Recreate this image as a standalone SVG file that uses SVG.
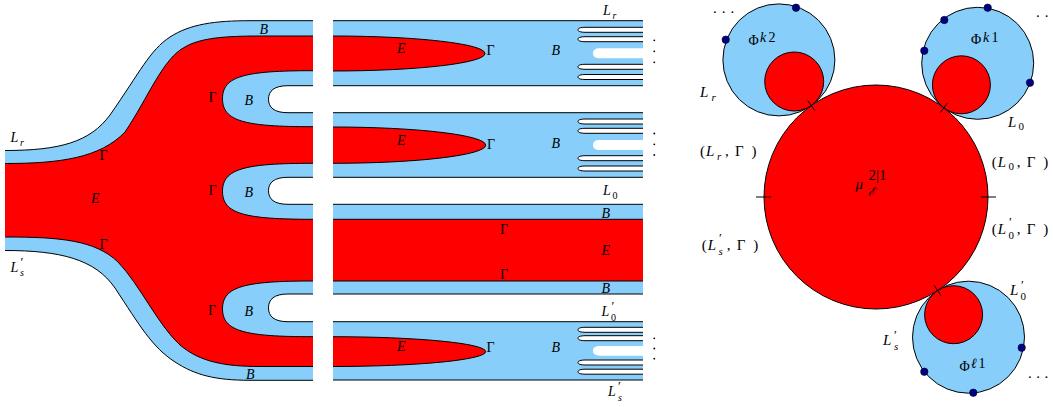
<svg xmlns="http://www.w3.org/2000/svg" width="1053" height="407" viewBox="0 0 1053 407">
<style>
.bl{fill:#87CEFA}
.rd{fill:#FF0000}
.ln{fill:none;stroke:#000;stroke-width:1}
.lb{fill:#87CEFA;stroke:#000;stroke-width:1}
.lr{fill:#FF0000;stroke:#000;stroke-width:1}
.wh{fill:#FFFFFF;stroke:#000;stroke-width:1}
.wn{fill:#FFFFFF}
.dot{fill:#00008B;stroke:#000;stroke-width:0.6}
.vd{fill:#000}
text{font-family:"Liberation Serif","DejaVu Serif",serif;fill:#000}
.m{font-style:italic;font-size:14px}
.u{font-size:14px}
.ms{font-style:italic;font-size:10px}
.us{font-size:10px}
.pr{font-size:13px}
.M{font-style:italic;font-size:15px}
.U{font-size:15px}
.Ms{font-style:italic;font-size:11px}
.Us{font-size:11px}
</style>
<rect width="1053" height="407" fill="#FFFFFF"/>

<g id="left-part">
  <path class="bl" d="M5,150.5 C60,150.5 90,142 110,115 C140,72 150,50 170,37 C190,24 215,20.7 250,20.7 L313,20.7 L313,380.3 L250,380.3 C215,380.3 195,375 175,362 C152,347 140,326 115,288 C95,259 60,250.5 5,250.5 Z"/>
  <path class="rd" d="M5,163.5 C60,163.5 100,158 125,132 C148,98 163,58 185,47 C200,38 225,36 260,36 L313,36 L313,366.5 L260,366.5 C225,366.5 200,362 180,345 C158,325 140,285 118,262 C95,240 60,237 5,237 Z"/>
  <path class="ln" d="M5,150.5 C60,150.5 90,142 110,115 C140,72 150,50 170,37 C190,24 215,20.7 250,20.7 L313,20.7"/>
  <path class="ln" d="M5,163.5 C60,163.5 100,158 125,132 C148,98 163,58 185,47 C200,38 225,36 260,36 L313,36"/>
  <path class="ln" d="M5,237 C60,237 95,240 118,262 C140,285 158,325 180,345 C200,362 225,366.5 260,366.5 L313,366.5"/>
  <path class="ln" d="M5,250.5 C60,250.5 95,259 115,288 C140,326 152,347 175,362 C195,375 215,380.3 250,380.3 L313,380.3"/>
  <path class="lb" d="M313,70.7 C245,70.7 222.5,76 222.5,98.7 C222.5,121.4 245,126.7 313,126.7"/>
  <path class="wh" d="M313,85.7 H288 C274,85.7 268.5,91 268.5,99.2 C268.5,107.4 274,112.7 288,112.7 H313"/>
  <path class="lb" d="M313,163.3 C245,163.3 222.5,168.6 222.5,191.3 C222.5,214 245,219.3 313,219.3"/>
  <path class="wh" d="M313,177.3 H288 C274,177.3 268.5,182.6 268.5,190.8 C268.5,199 274,204.3 288,204.3 H313"/>
  <path class="lb" d="M313,281 C245,281 222.5,286.3 222.5,308.85 C222.5,331.4 245,336.7 313,336.7"/>
  <path class="wh" d="M313,294 H288 C274,294 268.5,299.4 268.5,307.85 C268.5,316.3 274,321.7 288,321.7 H313"/>
  <text class="m" x="259.5" y="33.5">B</text>
  <text class="m" x="10.5" y="142">L</text><text class="ms" x="20" y="145.5">r</text>
  <text class="u" x="99.5" y="160">Γ</text>
  <text class="m" x="91" y="202.5">E</text>
  <text class="u" x="99.5" y="248.5">Γ</text>
  <text class="m" x="10.5" y="271.5">L</text><text class="pr" x="20.5" y="265.5">′</text><text class="ms" x="20" y="276">s</text>
  <text class="u" x="208.5" y="102">Γ</text><text class="m" x="244.5" y="105">B</text>
  <text class="u" x="208.5" y="195">Γ</text><text class="m" x="244.5" y="196.7">B</text>
  <text class="u" x="208" y="315">Γ</text><text class="m" x="244.5" y="316">B</text>
  <text class="m" x="246" y="378.5">B</text>
</g>

<g id="row1">
  <rect class="bl" x="333" y="20.7" width="310" height="65"/>
  <path class="ln" d="M333,20.7 H643 M333,85.7 H643"/>
  <path class="lr" d="M333,36 A152,17.5 0 0 1 485,53.5 A152,17.5 0 0 1 333,71"/>
  <path class="wh" d="M643,27.3 H586 C580,27.3 578,28.3 578,29.8 C578,31.3 580,32.3 586,32.3 H643"/>
  <path class="wh" d="M643,36.7 H586 C580,36.7 578,37.7 578,39.2 C578,40.7 580,41.7 586,41.7 H643"/>
  <path class="wn" d="M643,48.3 H600 C595,48.3 593,50.3 593,53.3 C593,56.3 595,58.3 600,58.3 H643 Z"/>
  <path class="wh" d="M643,64.3 H586 C580,64.3 578,65.3 578,66.8 C578,68.3 580,69.3 586,69.3 H643"/>
  <path class="wh" d="M643,74.5 H586 C580,74.5 578,75.5 578,77 C578,78.5 580,79.5 586,79.5 H643"/>
  <text class="m" x="397" y="52.5">E</text>
  <text class="u" x="486.5" y="55">Γ</text>
  <text class="m" x="551.5" y="55">B</text>
  <text class="m" x="603" y="15">L</text><text class="ms" x="612.5" y="18.5">r</text>
  <circle class="vd" cx="654.3" cy="40.3" r="0.9"/><circle class="vd" cx="654.3" cy="51.3" r="0.9"/><circle class="vd" cx="654.3" cy="62.3" r="0.9"/>
</g>

<g id="row2">
  <rect class="bl" x="333" y="112.7" width="310" height="64.6"/>
  <path class="ln" d="M333,112.7 H643 M333,177.3 H643"/>
  <path class="lr" d="M333,127 A152.7,18.15 0 0 1 485.7,145.15 A152.7,18.15 0 0 1 333,163.3"/>
  <path class="wh" d="M643,119 H586 C580,119 578,120 578,121.5 C578,123 580,124 586,124 H643"/>
  <path class="wh" d="M643,128.3 H586 C580,128.3 578,129.3 578,130.8 C578,132.3 580,133.3 586,133.3 H643"/>
  <path class="wn" d="M643,140 H600 C595,140 593,142 593,145 C593,148 595,150 600,150 H643 Z"/>
  <path class="wh" d="M643,155.7 H586 C580,155.7 578,156.7 578,158.2 C578,159.7 580,160.7 586,160.7 H643"/>
  <path class="wh" d="M643,166 H586 C580,166 578,167 578,168.5 C578,170 580,171 586,171 H643"/>
  <text class="m" x="397" y="144.5">E</text>
  <text class="u" x="487" y="148.5">Γ</text>
  <text class="m" x="551.5" y="147.5">B</text>
  <text class="m" x="603" y="195">L</text><text class="us" x="612.5" y="198.5">0</text>
  <circle class="vd" cx="654.3" cy="133.5" r="0.9"/><circle class="vd" cx="654.3" cy="144.3" r="0.9"/><circle class="vd" cx="654.3" cy="155" r="0.9"/>
</g>

<g id="row3">
  <rect class="bl" x="333" y="204.3" width="310" height="89.7"/>
  <rect class="rd" x="333" y="219.3" width="310" height="61.7"/>
  <path class="ln" d="M333,204.3 H643 M333,219.3 H643 M333,281 H643 M333,294 H643"/>
  <text class="m" x="601.5" y="217.5">B</text>
  <text class="u" x="500" y="233.5">Γ</text>
  <text class="m" x="601.5" y="254.5">E</text>
  <text class="u" x="500" y="279">Γ</text>
  <text class="m" x="601.5" y="292.5">B</text>
  <text class="m" x="601.5" y="315.5">L</text><text class="pr" x="611.5" y="309.5">′</text><text class="us" x="611" y="320.5">0</text>
</g>

<g id="row4">
  <rect class="bl" x="333" y="321.7" width="310" height="58.3"/>
  <path class="ln" d="M333,321.7 H643 M333,380 H643"/>
  <path class="lr" d="M333,336.7 A152.7,14.9 0 0 1 485.7,351.6 A152.7,14.9 0 0 1 333,366.5"/>
  <path class="wh" d="M643,327.3 H586 C580,327.3 578,328.3 578,329.8 C578,331.3 580,332.3 586,332.3 H643"/>
  <path class="wh" d="M643,335.7 H586 C580,335.7 578,336.7 578,338.2 C578,339.7 580,340.7 586,340.7 H643"/>
  <path class="wn" d="M643,346 H600 C595,346 593,348 593,350.8 C593,353.7 595,355.7 600,355.7 H643 Z"/>
  <path class="wh" d="M643,360 H586 C580,360 578,361 578,362.5 C578,364 580,365 586,365 H643"/>
  <path class="wh" d="M643,369.2 H586 C580,369.2 578,370.2 578,371.7 C578,373.2 580,374.2 586,374.2 H643"/>
  <text class="m" x="397" y="351">E</text>
  <text class="u" x="486.5" y="352">Γ</text>
  <text class="m" x="551.5" y="352">B</text>
  <text class="m" x="608" y="395.5">L</text><text class="pr" x="618" y="389.5">′</text><text class="ms" x="618" y="400.5">s</text>
  <circle class="vd" cx="654.3" cy="338.3" r="0.9"/><circle class="vd" cx="654.3" cy="348.5" r="0.9"/><circle class="vd" cx="654.3" cy="358.7" r="0.9"/>
</g>

<g id="disk-mu">
  <circle class="lr" cx="876" cy="197" r="112"/>
  <path class="ln" d="M756,197 H771 M981,197 H996"/>
  <text class="M" x="855.5" y="188.5" font-size="17">μ</text>
  <text class="U" x="868.5" y="180" font-size="13">2|1</text>
  <text x="868" y="196" font-size="12" font-style="italic" font-family="DejaVu Sans, sans-serif">ℰ</text>
  <text class="U" x="700" y="156">(</text><text class="M" x="706" y="156">L</text><text class="Ms" x="717" y="159.5">r</text><text class="U" x="725" y="156">,</text><text class="U" x="735" y="156">Γ</text><text class="U" x="751.5" y="156">)</text>
  <text class="U" x="991.7" y="166.5">(</text><text class="M" x="997.7" y="166.5">L</text><text class="Us" x="1008.5" y="170">0</text><text class="U" x="1016.7" y="166.5">,</text><text class="U" x="1026.7" y="166.5">Γ</text><text class="U" x="1043.2" y="166.5">)</text>
  <text class="U" x="701.7" y="249.5">(</text><text class="M" x="707.7" y="249.5">L</text><text class="pr" x="719" y="242">′</text><text class="Ms" x="718.5" y="254.5">s</text><text class="U" x="726.7" y="249.5">,</text><text class="U" x="736.7" y="249.5">Γ</text><text class="U" x="753.2" y="249.5">)</text>
  <text class="U" x="991.7" y="233.5">(</text><text class="M" x="997.7" y="233.5">L</text><text class="pr" x="1009" y="226">′</text><text class="Us" x="1008.5" y="238.5">0</text><text class="U" x="1016.7" y="233.5">,</text><text class="U" x="1026.7" y="233.5">Γ</text><text class="U" x="1043.2" y="233.5">)</text>
</g>

<g id="disk-k2">
  <circle class="lb" cx="778.9" cy="59.9" r="56"/>
  <circle class="lr" cx="794.2" cy="81.5" r="29.5"/>
  <path class="ln" d="M814.8,110.5 L807.8,100.7"/>
  <circle class="dot" cx="796" cy="7.7" r="3.7"/>
  <circle class="dot" cx="725.7" cy="39.7" r="3.7"/>
  <text class="U" x="713" y="13" letter-spacing="5">...</text>
  <text class="u" x="748.5" y="44.5" font-size="13">Φ</text><text class="m" x="760" y="41.5" font-size="13">k</text><text class="u" x="768.5" y="41.5" font-size="13">2</text>
  <text class="M" x="700" y="97">L</text><text class="Ms" x="711.5" y="100.5">r</text>
</g>

<g id="disk-k1">
  <circle class="lb" cx="977.7" cy="63.3" r="56"/>
  <circle class="lr" cx="961.4" cy="84.8" r="29"/>
  <path class="ln" d="M940.2,112.7 L947.4,103.1"/>
  <circle class="dot" cx="987.7" cy="7.7" r="3.7"/>
  <circle class="dot" cx="944.3" cy="20" r="3.7"/>
  <circle class="dot" cx="924.3" cy="50.7" r="3.7"/>
  <circle class="dot" cx="1030" cy="82.7" r="3.7"/>
  <text class="U" x="1036" y="16.5" letter-spacing="5">..</text>
  <text class="u" x="971" y="44" font-size="13">Φ</text><text class="m" x="983" y="41.5" font-size="13">k</text><text class="u" x="991.5" y="41.5" font-size="13">1</text>
  <text class="M" x="1008" y="126.5">L</text><text class="Us" x="1018.5" y="130">0</text>
</g>

<g id="disk-l1">
  <circle class="lb" cx="968.5" cy="337.2" r="56"/>
  <circle class="lr" cx="953.6" cy="314.7" r="29"/>
  <path class="ln" d="M934.3,285.5 L940.9,295.5"/>
  <circle class="dot" cx="1021.7" cy="347.7" r="3.7"/>
  <circle class="dot" cx="924.3" cy="371.7" r="3.7"/>
  <circle class="dot" cx="973.3" cy="392.7" r="3.7"/>
  <text class="U" x="1028" y="378" letter-spacing="4.5">...</text>
  <text class="u" x="959.5" y="370.5" font-size="13">Φ</text><text class="m" x="971" y="367.5" font-size="13">ℓ</text><text class="u" x="978.5" y="367.5" font-size="13">1</text>
  <text class="M" x="1010" y="295">L</text><text class="pr" x="1021" y="289">′</text><text class="Us" x="1020.5" y="300">0</text>
  <text class="M" x="883" y="345">L</text><text class="pr" x="894" y="339">′</text><text class="Ms" x="894" y="350">s</text>
</g>
</svg>
